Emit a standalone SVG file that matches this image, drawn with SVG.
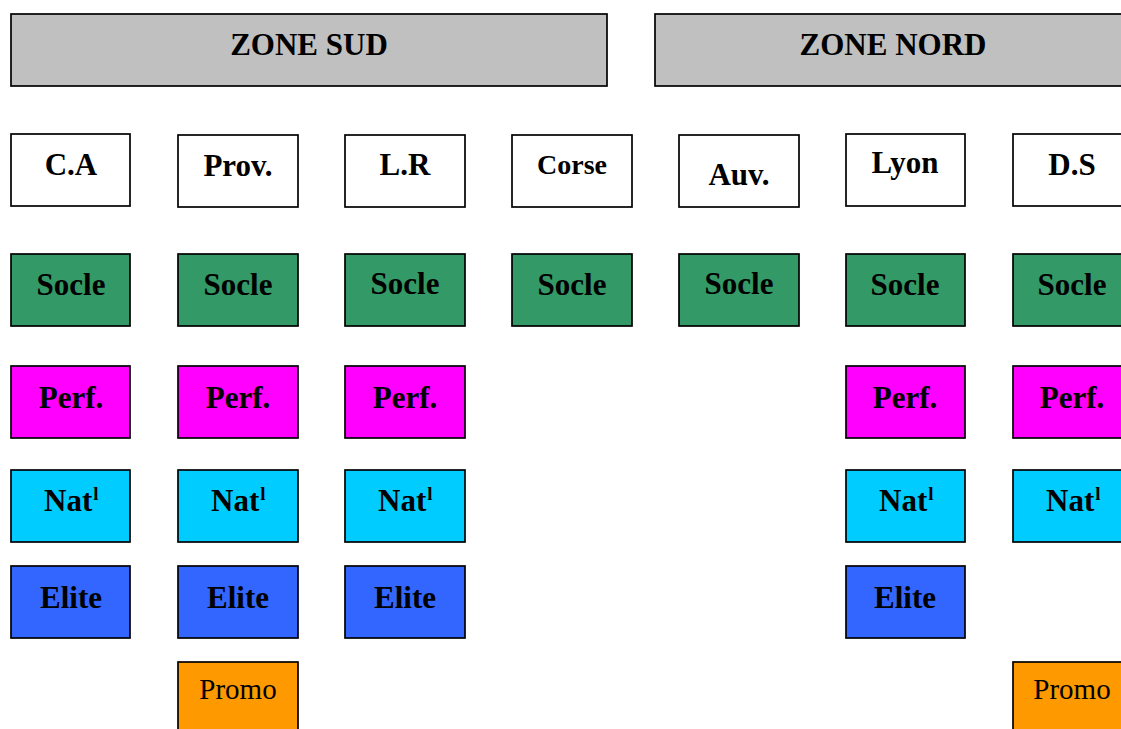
<svg xmlns="http://www.w3.org/2000/svg" width="1121" height="729" viewBox="0 0 1121 729">
<style>
rect{stroke:#000;stroke-width:1.7}
text{font-family:"Liberation Serif","Times New Roman",serif;font-weight:bold;font-size:31px;fill:#000;text-anchor:middle}
.zone{fill:#C0C0C0}
.hd{fill:#fff}
.socle{fill:#339966}
.perf{fill:#FF00FF}
.nat{fill:#00CCFF}
.elite{fill:#3366FF}
.promo{fill:#FF9900}
text.reg{font-weight:normal;font-size:29px}
text.st{text-anchor:start}
tspan.sup{font-size:19px}
</style>
<rect width="1121" height="729" fill="#fff" style="stroke:none"/>
<g id="zone-sud"><rect class="zone" x="11" y="14" width="596" height="72"/><text x="309" y="55">ZONE SUD</text></g>
<g id="zone-nord"><rect class="zone" x="655" y="14" width="480" height="72"/><text x="893" y="55">ZONE NORD</text></g>

<g id="ca"><rect class="hd" x="11" y="134" width="119" height="72"/><text x="71" y="175">C.A</text></g>
<g id="prov"><rect class="hd" x="178" y="135" width="120" height="72"/><text x="238" y="176">Prov.</text></g>
<g id="lr"><rect class="hd" x="345" y="135" width="120" height="72"/><text x="405" y="175">L.R</text></g>
<g id="corse"><rect class="hd" x="512" y="135" width="120" height="72"/><text x="572" y="174" style="font-size:28px">Corse</text></g>
<g id="auv"><rect class="hd" x="679" y="135" width="120" height="72"/><text x="739" y="185">Auv.</text></g>
<g id="lyon"><rect class="hd" x="846" y="134" width="119" height="72"/><text x="905" y="173">Lyon</text></g>
<g id="ds"><rect class="hd" x="1013" y="134" width="120" height="72"/><text x="1072" y="175">D.S</text></g>

<g id="socle-ca"><rect class="socle" x="11" y="254" width="119" height="72"/><text x="71" y="295">Socle</text></g>
<g id="socle-prov"><rect class="socle" x="178" y="254" width="120" height="72"/><text x="238" y="295">Socle</text></g>
<g id="socle-lr"><rect class="socle" x="345" y="254" width="120" height="72"/><text x="405" y="294">Socle</text></g>
<g id="socle-corse"><rect class="socle" x="512" y="254" width="120" height="72"/><text x="572" y="295">Socle</text></g>
<g id="socle-auv"><rect class="socle" x="679" y="254" width="120" height="72"/><text x="739" y="294">Socle</text></g>
<g id="socle-lyon"><rect class="socle" x="846" y="254" width="119" height="72"/><text x="905" y="295">Socle</text></g>
<g id="socle-ds"><rect class="socle" x="1013" y="254" width="120" height="72"/><text x="1072" y="295">Socle</text></g>

<g id="perf-ca"><rect class="perf" x="11" y="366" width="119" height="72"/><text x="71" y="408">Perf.</text></g>
<g id="perf-prov"><rect class="perf" x="178" y="366" width="120" height="72"/><text x="238" y="408">Perf.</text></g>
<g id="perf-lr"><rect class="perf" x="345" y="366" width="120" height="72"/><text x="405" y="408">Perf.</text></g>
<g id="perf-lyon"><rect class="perf" x="846" y="366" width="119" height="72"/><text x="905" y="408">Perf.</text></g>
<g id="perf-ds"><rect class="perf" x="1013" y="366" width="120" height="72"/><text x="1072" y="408">Perf.</text></g>

<g id="nat-ca"><rect class="nat" x="11" y="470" width="119" height="72"/><text class="st" x="44" y="511">Nat<tspan class="sup" dx="1" dy="-11">l</tspan></text></g>
<g id="nat-prov"><rect class="nat" x="178" y="470" width="120" height="72"/><text class="st" x="211" y="511">Nat<tspan class="sup" dx="1" dy="-11">l</tspan></text></g>
<g id="nat-lr"><rect class="nat" x="345" y="470" width="120" height="72"/><text class="st" x="378" y="511">Nat<tspan class="sup" dx="1" dy="-11">l</tspan></text></g>
<g id="nat-lyon"><rect class="nat" x="846" y="470" width="119" height="72"/><text class="st" x="879" y="511">Nat<tspan class="sup" dx="1" dy="-11">l</tspan></text></g>
<g id="nat-ds"><rect class="nat" x="1013" y="470" width="120" height="72"/><text class="st" x="1046" y="511">Nat<tspan class="sup" dx="1" dy="-11">l</tspan></text></g>

<g id="elite-ca"><rect class="elite" x="11" y="566" width="119" height="72"/><text x="71" y="608">Elite</text></g>
<g id="elite-prov"><rect class="elite" x="178" y="566" width="120" height="72"/><text x="238" y="608">Elite</text></g>
<g id="elite-lr"><rect class="elite" x="345" y="566" width="120" height="72"/><text x="405" y="608">Elite</text></g>
<g id="elite-lyon"><rect class="elite" x="846" y="566" width="119" height="72"/><text x="905" y="608">Elite</text></g>

<g id="promo-prov"><rect class="promo" x="178" y="662" width="120" height="80"/><text class="reg" x="238" y="699">Promo</text></g>
<g id="promo-ds"><rect class="promo" x="1013" y="662" width="120" height="80"/><text class="reg" x="1072" y="699">Promo</text></g>
<g id="connectors"></g>
</svg>
